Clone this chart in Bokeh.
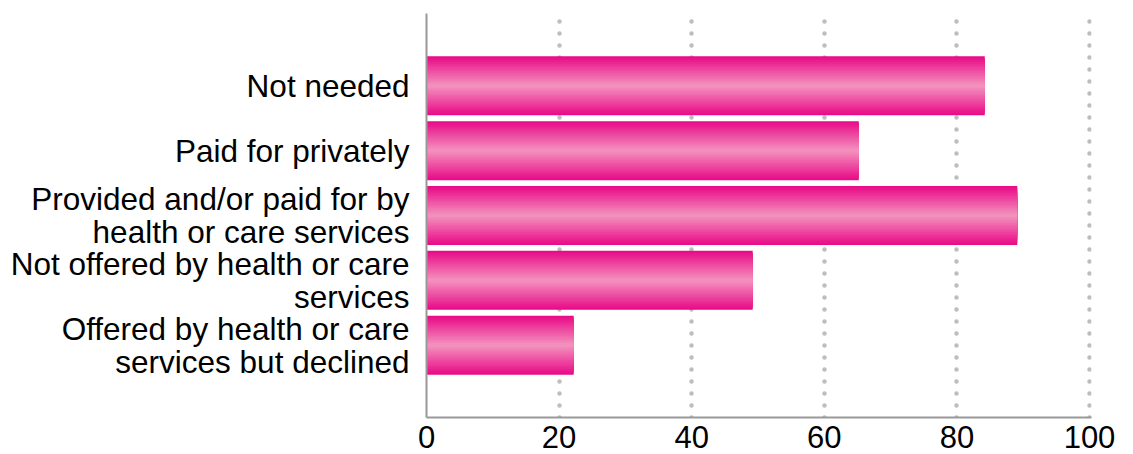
from bokeh.plotting import figure
from bokeh.models import Range1d, FactorRange, FixedTicker
from bokeh.embed import file_html
from bokeh.resources import INLINE

categories = [
    "Not needed",
    "Paid for privately",
    "Provided and/or paid for by\nhealth or care services",
    "Not offered by health or care\nservices",
    "Offered by health or care\nservices but declined",
]
values = [84.2, 65.2, 89.1, 49.2, 22.2]
x_ticks = [0, 20, 40, 60, 80, 100]

FONT = "Liberation Sans"
EDGE = (233, 12, 136)
CENTER = (243, 143, 188)


def mix(a, b, t):
    return "#%02x%02x%02x" % tuple(int(round(a[i] + (b[i] - a[i]) * t)) for i in range(3))


factors = list(reversed(categories))
p = figure(
    width=1133, height=454,
    x_range=Range1d(0, 100.3),
    y_range=FactorRange(factors=factors, range_padding=0.246),
    output_backend="svg", toolbar_location=None,
    min_border_left=426, min_border_right=42, min_border_top=13, min_border_bottom=37,
)
p.outline_line_color = None
p.background_fill_color = "white"

# stepped vertical gradient: stacked bars, narrowing toward the lighter centre
bar_h = 0.91
layers = 16
for k in range(layers):
    t = k / (layers - 1)
    p.hbar(y=categories, right=values, left=0, height=bar_h * (1 - k / layers),
           fill_color=mix(EDGE, CENTER, t), line_color=None)

p.xgrid.ticker = FixedTicker(ticks=x_ticks)
p.xgrid.grid_line_color = "#bdbdbd"
p.xgrid.grid_line_width = 4.5
p.xgrid.grid_line_dash = "0 12"
p.xgrid.grid_line_cap = "round"
p.ygrid.grid_line_color = None
p.xgrid.level = "underlay"

xa = p.xaxis[0]
xa.ticker = FixedTicker(ticks=x_ticks)
xa.axis_line_color = "#999999"
xa.axis_line_width = 2
xa.major_tick_line_color = None
xa.minor_tick_line_color = None
xa.major_tick_out = 0
xa.major_tick_in = 0
xa.major_label_standoff = 8
xa.major_label_text_font = FONT
xa.major_label_text_font_size = "31px"
xa.major_label_text_color = "black"
xa.major_label_text_line_height = 0.9

ya = p.yaxis[0]
ya.axis_line_color = "#999999"
ya.axis_line_width = 2
ya.major_tick_line_color = None
ya.minor_tick_line_color = None
ya.major_tick_out = 0
ya.major_tick_in = 0
ya.major_label_standoff = 17
ya.major_label_text_font = FONT
ya.major_label_text_font_size = "31.5px"
ya.major_label_text_color = "black"
ya.major_label_text_line_height = 0.92

open("out.html", "w").write(file_html(p, INLINE))
